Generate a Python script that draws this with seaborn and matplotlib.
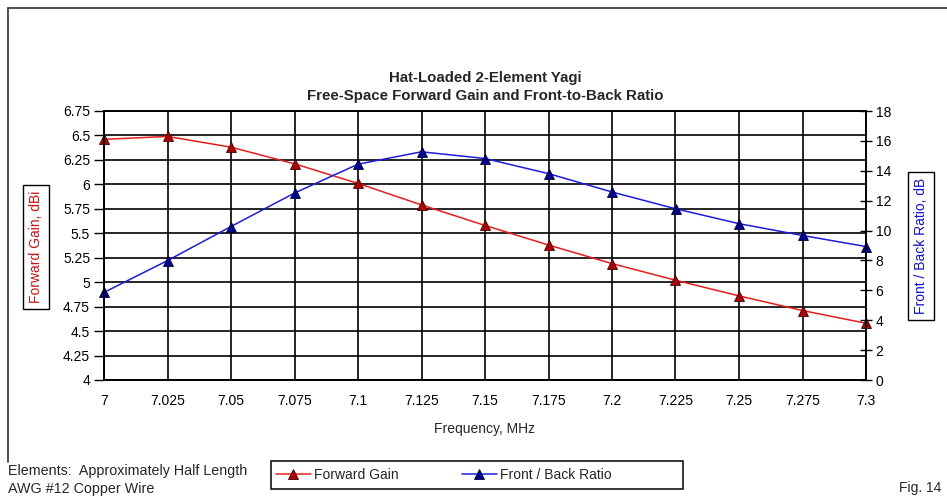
import numpy as np
import pandas as pd
import matplotlib
matplotlib.use("Agg")
import matplotlib.pyplot as plt
import seaborn as sns
from matplotlib.lines import Line2D
from matplotlib.patches import Rectangle

# data
freq = [7.0, 7.025, 7.05, 7.075, 7.1, 7.125, 7.15, 7.175, 7.2, 7.225, 7.25, 7.275, 7.3]
gain = [6.46, 6.49, 6.38, 6.21, 6.01, 5.79, 5.58, 5.38, 5.19, 5.02, 4.86, 4.71, 4.58]
fb_ratio = [5.86, 7.99, 10.27, 12.51, 14.44, 15.27, 14.82, 13.81, 12.58, 11.46, 10.46, 9.67, 8.93]

gain_ticks = [4, 4.25, 4.5, 4.75, 5, 5.25, 5.5, 5.75, 6, 6.25, 6.5, 6.75]
fb_ticks = [0, 2, 4, 6, 8, 10, 12, 14, 16, 18]

title_lines = ["Hat-Loaded 2-Element Yagi", "Free-Space Forward Gain and Front-to-Back Ratio"]
note_lines = ["Elements:  Approximately Half Length", "AWG #12 Copper Wire"]

RED = "#e81c1c"
RED_MK = "#b00000"
BLUE = "#1c1ce0"
BLUE_MK = "#000090"

W, H = 947, 501


def fx(px):
    return px / W


def fy(py):
    return 1 - py / H


def main():
    sns.set_style("white")
    plt.rcParams['font.family'] = ['Liberation Sans', 'DejaVu Sans']

    df = pd.DataFrame({"freq": freq, "gain": gain, "fb": fb_ratio})

    fig = plt.figure(figsize=(W / 100, H / 100), dpi=100)
    ax = fig.add_axes([fx(104), fy(380), (866 - 104) / W, (380 - 111) / H])
    ax2 = ax.twinx()

    sns.lineplot(data=df, x="freq", y="gain", ax=ax, color=RED, lw=1.1,
                 marker="^", markersize=6.5, markerfacecolor=RED_MK,
                 markeredgecolor="#400000", markeredgewidth=0.6)
    sns.lineplot(data=df, x="freq", y="fb", ax=ax2, color=BLUE, lw=1.1,
                 marker="^", markersize=6.5, markerfacecolor=BLUE_MK,
                 markeredgecolor="#000030", markeredgewidth=0.6)
    for a in (ax, ax2):
        for ln in a.get_lines():
            ln.set_clip_on(False)

    ax.set_xlim(7.0, 7.3)
    ax.set_ylim(4, 6.75)
    ax2.set_ylim(0, 18)
    ax.set_xticks(freq)
    ax.set_xticklabels([f"{v:g}" for v in freq])
    ax.set_yticks(gain_ticks)
    ax.set_yticklabels([f"{v:g}" for v in gain_ticks])
    ax2.set_yticks(fb_ticks)
    ax2.set_yticklabels([str(v) for v in fb_ticks])

    ax.set_xlabel("Frequency, MHz", fontsize=10, labelpad=10)
    ax.set_ylabel("")
    ax2.set_ylabel("")

    ax.grid(True, color="black", lw=1.2)
    ax.set_axisbelow(True)
    for a in (ax, ax2):
        for s in a.spines.values():
            s.set_color("black")
            s.set_linewidth(1.2)
    ax.tick_params(axis="y", direction="out", length=7, width=1, pad=3, labelsize=10, colors="black")
    ax.tick_params(axis="x", direction="out", length=4, width=1, pad=6, labelsize=10, colors="black")
    ax2.tick_params(axis="y", direction="inout", length=8, width=1, pad=3, labelsize=10, colors="black")

    # title
    fig.text(fx(485), fy(78), title_lines[0], ha="center", va="center", fontsize=10.8, fontweight="bold")
    fig.text(fx(485), fy(96), title_lines[1], ha="center", va="center", fontsize=10.8, fontweight="bold")

    # axis title boxes
    box = dict(boxstyle="square,pad=0.45", fc="white", ec="black", lw=1)
    fig.text(fx(36), fy(247), "Forward Gain, dBi", rotation=90, ha="center", va="center",
             color="#d01010", fontsize=10, bbox=box)
    fig.text(fx(921), fy(246), "Front / Back Ratio, dB", rotation=90, ha="center", va="center",
             color="#1010d0", fontsize=10, bbox=box)

    # outer frame (left and top edges)
    fig.add_artist(Line2D([fx(8), fx(8)], [fy(8), fy(462)], color="#333333", lw=1.2))
    fig.add_artist(Line2D([fx(8), 1.0], [fy(8), fy(8)], color="#333333", lw=1.2))

    # legend
    fig.add_artist(Rectangle((fx(271), fy(489)), (683 - 271) / W, (489 - 461) / H,
                             transform=fig.transFigure, fill=False, ec="black", lw=1.1))
    handles = [ax.get_lines()[0], ax2.get_lines()[0]]
    fig.legend(handles, ["Forward Gain", "Front / Back Ratio"], loc="center left",
               bbox_to_anchor=(fx(276), fy(475)), ncol=2, frameon=False, fontsize=10,
               handlelength=2.5, handletextpad=0.2, columnspacing=4.6,
               borderaxespad=0, borderpad=0)

    fig.text(fx(8), fy(471), note_lines[0], ha="left", va="center", fontsize=10.3)
    fig.text(fx(8), fy(489), note_lines[1], ha="left", va="center", fontsize=10.3)
    fig.text(fx(941), fy(488), "Fig. 14", ha="right", va="center", fontsize=10)

    fig.savefig("out.png", dpi=100)
    plt.close(fig)


if __name__ == "__main__":
    main()
